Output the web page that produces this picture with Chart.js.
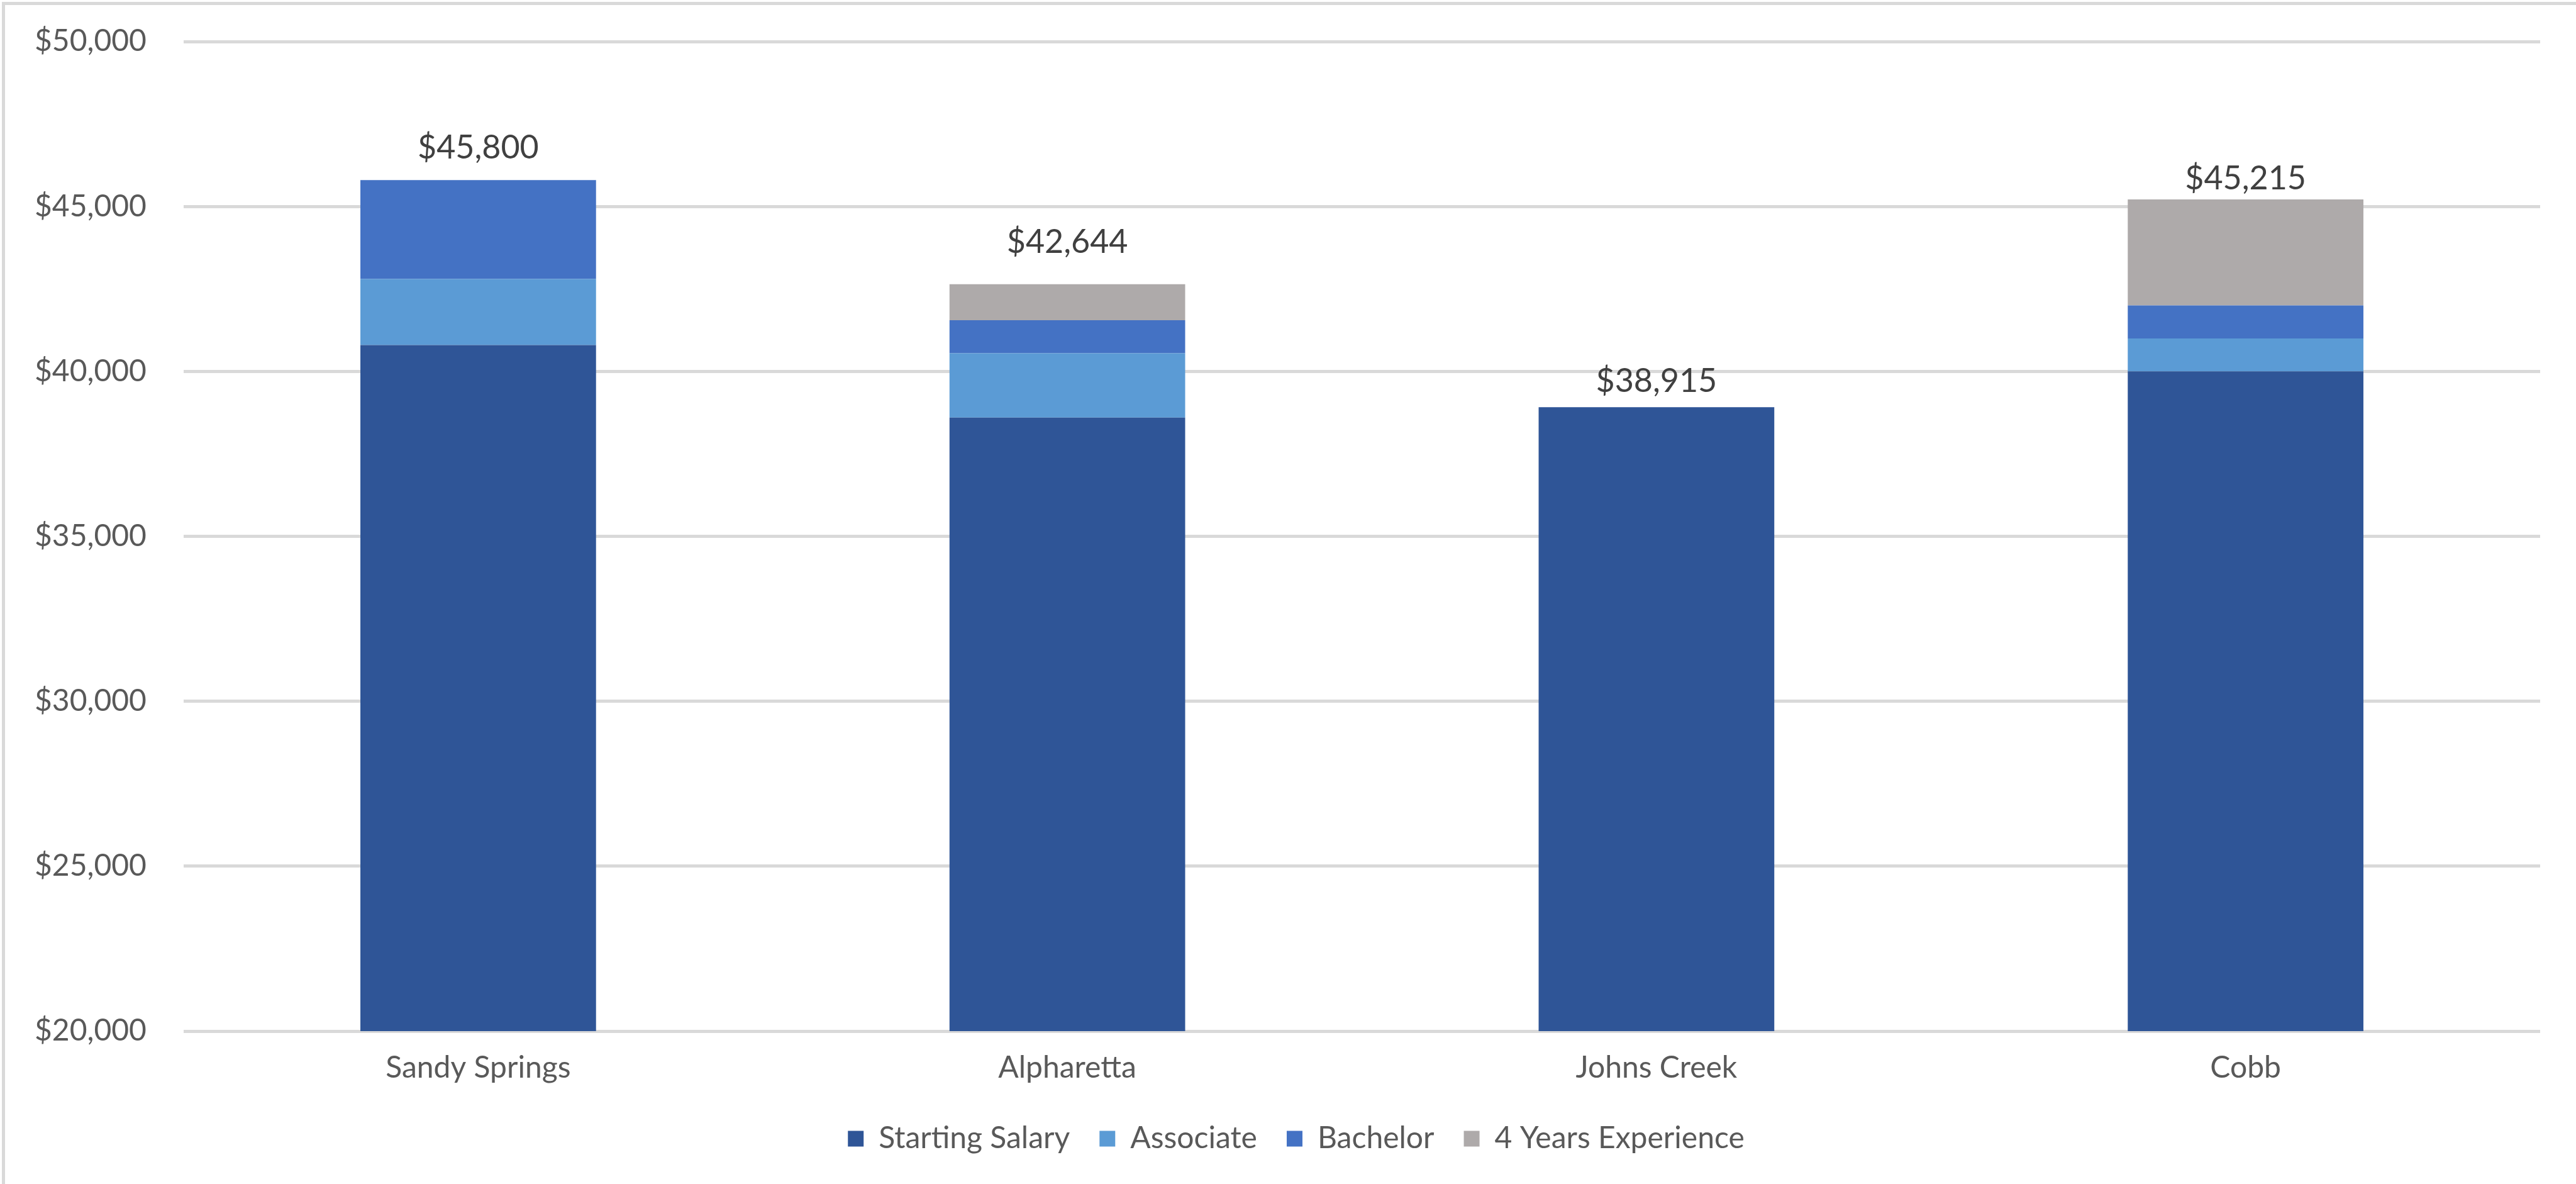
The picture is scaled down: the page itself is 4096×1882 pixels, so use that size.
<!DOCTYPE html>
<html>
<head>
<meta charset="utf-8">
<title>Starting Salary by City</title>
<script src="https://cdn.jsdelivr.net/npm/chart.js@4.4.1/dist/chart.umd.min.js"></script>
<style>
  html, body { margin: 0; padding: 0; background: #fff; overflow: hidden; }
  #frame {
    position: absolute; left: 3px; top: 3px; right: -20px; bottom: -20px;
    border-top: 5px solid #d9d9d9; border-left: 5px solid #d9d9d9;
  }
  #salaryChart { position: absolute; left: 0; top: 0; }
</style>
</head>
<body>
<div id="frame"></div>
<canvas id="salaryChart" width="4096" height="1882"></canvas>
<script>
// Salary build-up by city
var cities = ['Sandy Springs', 'Alpharetta', 'Johns Creek', 'Cobb'];
var startingSalary = [40800, 38600, 38915, 40000];
var associate = [2000, 1950, 0, 1000];
var bachelor = [3000, 1000, 0, 1000];
var fourYears = [0, 1094, 0, 3215];

var seriesNames = ['Starting Salary', 'Associate', 'Bachelor', '4 Years Experience'];
var seriesColors = ['#2f5597', '#5b9bd5', '#4472c4', '#aeaaaa'];

var yTicks = { min: 20000, max: 50000, step: 5000 };

// how far each total label sits above its bar, in px
var labelLift = [34, 50, 24, 16];

function money(v) {
  return '$' + Math.round(v).toLocaleString('en-US');
}

// writes the stacked total above each column
var totalsPlugin = {
  id: 'totals',
  afterDatasetsDraw: function (chart) {
    var ctx = chart.ctx;
    var y = chart.scales.y;
    var base = chart.getDatasetMeta(0);
    ctx.save();
    ctx.font = '52px Lato';
    ctx.fillStyle = '#404040';
    ctx.textAlign = 'center';
    ctx.textBaseline = 'alphabetic';
    cities.forEach(function (c, i) {
      var total = chart.data.datasets.reduce(function (s, ds) { return s + ds.data[i]; }, 0);
      var top = y.getPixelForValue(total);
      ctx.fillText(money(total), base.data[i].x, top - labelLift[i]);
    });
    ctx.restore();
  }
};

function build() {
  Chart.defaults.font.family = 'Lato';
  Chart.defaults.color = '#595959';

  var stacks = [startingSalary, associate, bachelor, fourYears];

  new Chart(document.getElementById('salaryChart'), {
    type: 'bar',
    data: {
      labels: cities,
      datasets: stacks.map(function (vals, k) {
        return {
          label: seriesNames[k],
          data: vals,
          backgroundColor: seriesColors[k],
          borderWidth: 0,
          barPercentage: 0.4,
          categoryPercentage: 1.0
        };
      })
    },
    options: {
      responsive: false,
      animation: false,
      layout: { padding: { left: 55, right: 29, top: 66, bottom: 38 } },
      scales: {
        x: {
          stacked: true,
          afterFit: function (axis) { axis.height = 100; },
          grid: { display: false, drawTicks: false },
          border: { display: false },
          ticks: { padding: 30, font: { size: 48 }, color: '#595959' }
        },
        y: {
          stacked: true,
          min: yTicks.min,
          max: yTicks.max,
          afterFit: function (axis) { axis.width = 237; },
          grid: { color: '#d9d9d9', lineWidth: 5, drawTicks: false },
          border: { display: false },
          ticks: {
            stepSize: yTicks.step,
            padding: 0,
            crossAlign: 'far',
            font: { size: 48 },
            color: '#595959',
            callback: function (v) { return money(v); }
          }
        },
        // empty right margin so the legend sits centred under the plot
        yRight: {
          position: 'right',
          afterFit: function (axis) { axis.width = 28; },
          grid: { display: false, drawTicks: false },
          border: { display: false },
          ticks: { display: false }
        }
      },
      plugins: {
        legend: {
          position: 'bottom',
          labels: {
            boxWidth: 25,
            boxHeight: 25,
            padding: 47,
            font: { size: 48 },
            color: '#595959'
          }
        },
        tooltip: { enabled: false }
      }
    },
    plugins: [totalsPlugin]
  });
}

if (document.fonts && document.fonts.load) {
  document.fonts.load('48px Lato').then(build, build);
} else {
  build();
}
</script>
</body>
</html>
